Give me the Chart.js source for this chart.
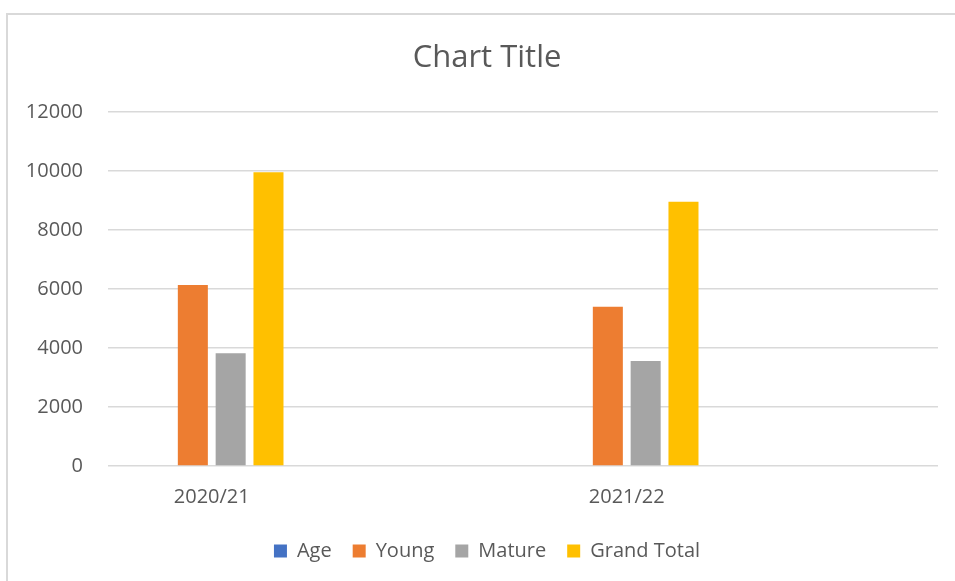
<!DOCTYPE html>
<html>
<head>
<meta charset="utf-8">
<script src="https://cdn.jsdelivr.net/npm/chart.js@4/dist/chart.umd.min.js"></script>
<style>
  html, body { margin: 0; padding: 0; background: #fff; overflow: hidden; }
  #frame {
    position: absolute; left: 6px; top: 13px;
    width: 1000px; height: 620px;
    border: 2px solid #d9d9d9;
  }
  #wrap { position: absolute; left: 0; top: 0; width: 955px; height: 581px; overflow: hidden; }
</style>
</head>
<body>
<div id="frame"></div>
<div id="wrap"><canvas id="chart" width="974" height="581"></canvas></div>
<script>
// Chart data (blank categories come from the pivot's empty rows)
const categories = ['2020/21', '', '2021/22', ''];
const ageValues = [0, null, 0, null];
const youngValues = [6140, null, 5400, null];
const matureValues = [3820, null, 3560, null];
const grandTotalValues = [9960, null, 8960, null];
const yTicks = [0, 2000, 4000, 6000, 8000, 10000, 12000];

const textColor = '#595959';
const gridColor = '#d9d9d9';
const fontFamily = '"Open Sans", "Noto Sans", sans-serif';

document.addEventListener('DOMContentLoaded', function() {
  const ctx = document.getElementById('chart').getContext('2d');

  function makeSet(label, data, color) {
    return {
      label: label,
      data: data,
      backgroundColor: color,
      borderWidth: 0,
      categoryPercentage: 0.729,
      barPercentage: 0.794
    };
  }

  new Chart(ctx, {
    type: 'bar',
    data: {
      labels: categories,
      datasets: [
        makeSet('Age', ageValues, '#4472C4'),
        makeSet('Young', youngValues, '#ED7D31'),
        makeSet('Mature', matureValues, '#A5A5A5'),
        makeSet('Grand Total', grandTotalValues, '#FFC000')
      ]
    },
    options: {
      responsive: false,
      animation: false,
      layout: { padding: { left: 0, right: 0, top: 0, bottom: 10 } },
      plugins: {
        tooltip: { enabled: false },
        title: {
          display: true,
          text: 'Chart Title',
          color: textColor,
          font: { family: fontFamily, size: 31, weight: 'normal' },
          padding: { top: 40, bottom: 35 }
        },
        legend: {
          position: 'bottom',
          labels: {
            color: textColor,
            font: { family: fontFamily, size: 20 },
            boxWidth: 13,
            boxHeight: 13,
            padding: 21
          }
        }
      },
      scales: {
        x: {
          grid: { display: false, drawTicks: false },
          border: { display: false },
          ticks: {
            color: textColor,
            font: { family: fontFamily, size: 20 },
            padding: 19,
            maxRotation: 0,
            autoSkip: false
          },
          afterFit: function(scale) { scale.height = 54; }
        },
        y: {
          min: yTicks[0],
          max: yTicks[yTicks.length - 1],
          grid: { color: gridColor, lineWidth: 1.5, drawTicks: false },
          border: { display: false },
          ticks: {
            stepSize: yTicks[1] - yTicks[0],
            color: textColor,
            font: { family: fontFamily, size: 20 },
            padding: 25,
            callback: function(value) { return String(value); }
          },
          afterFit: function(scale) { scale.width = 108; }
        },
        // empty right-hand space so the title and legend sit where the original has them
        spacer: {
          position: 'right',
          min: 0,
          max: 1,
          grid: { display: false },
          border: { display: false },
          ticks: { display: false },
          afterFit: function(scale) { scale.width = 36; }
        }
      }
    }
  });
});
</script>
</body>
</html>
